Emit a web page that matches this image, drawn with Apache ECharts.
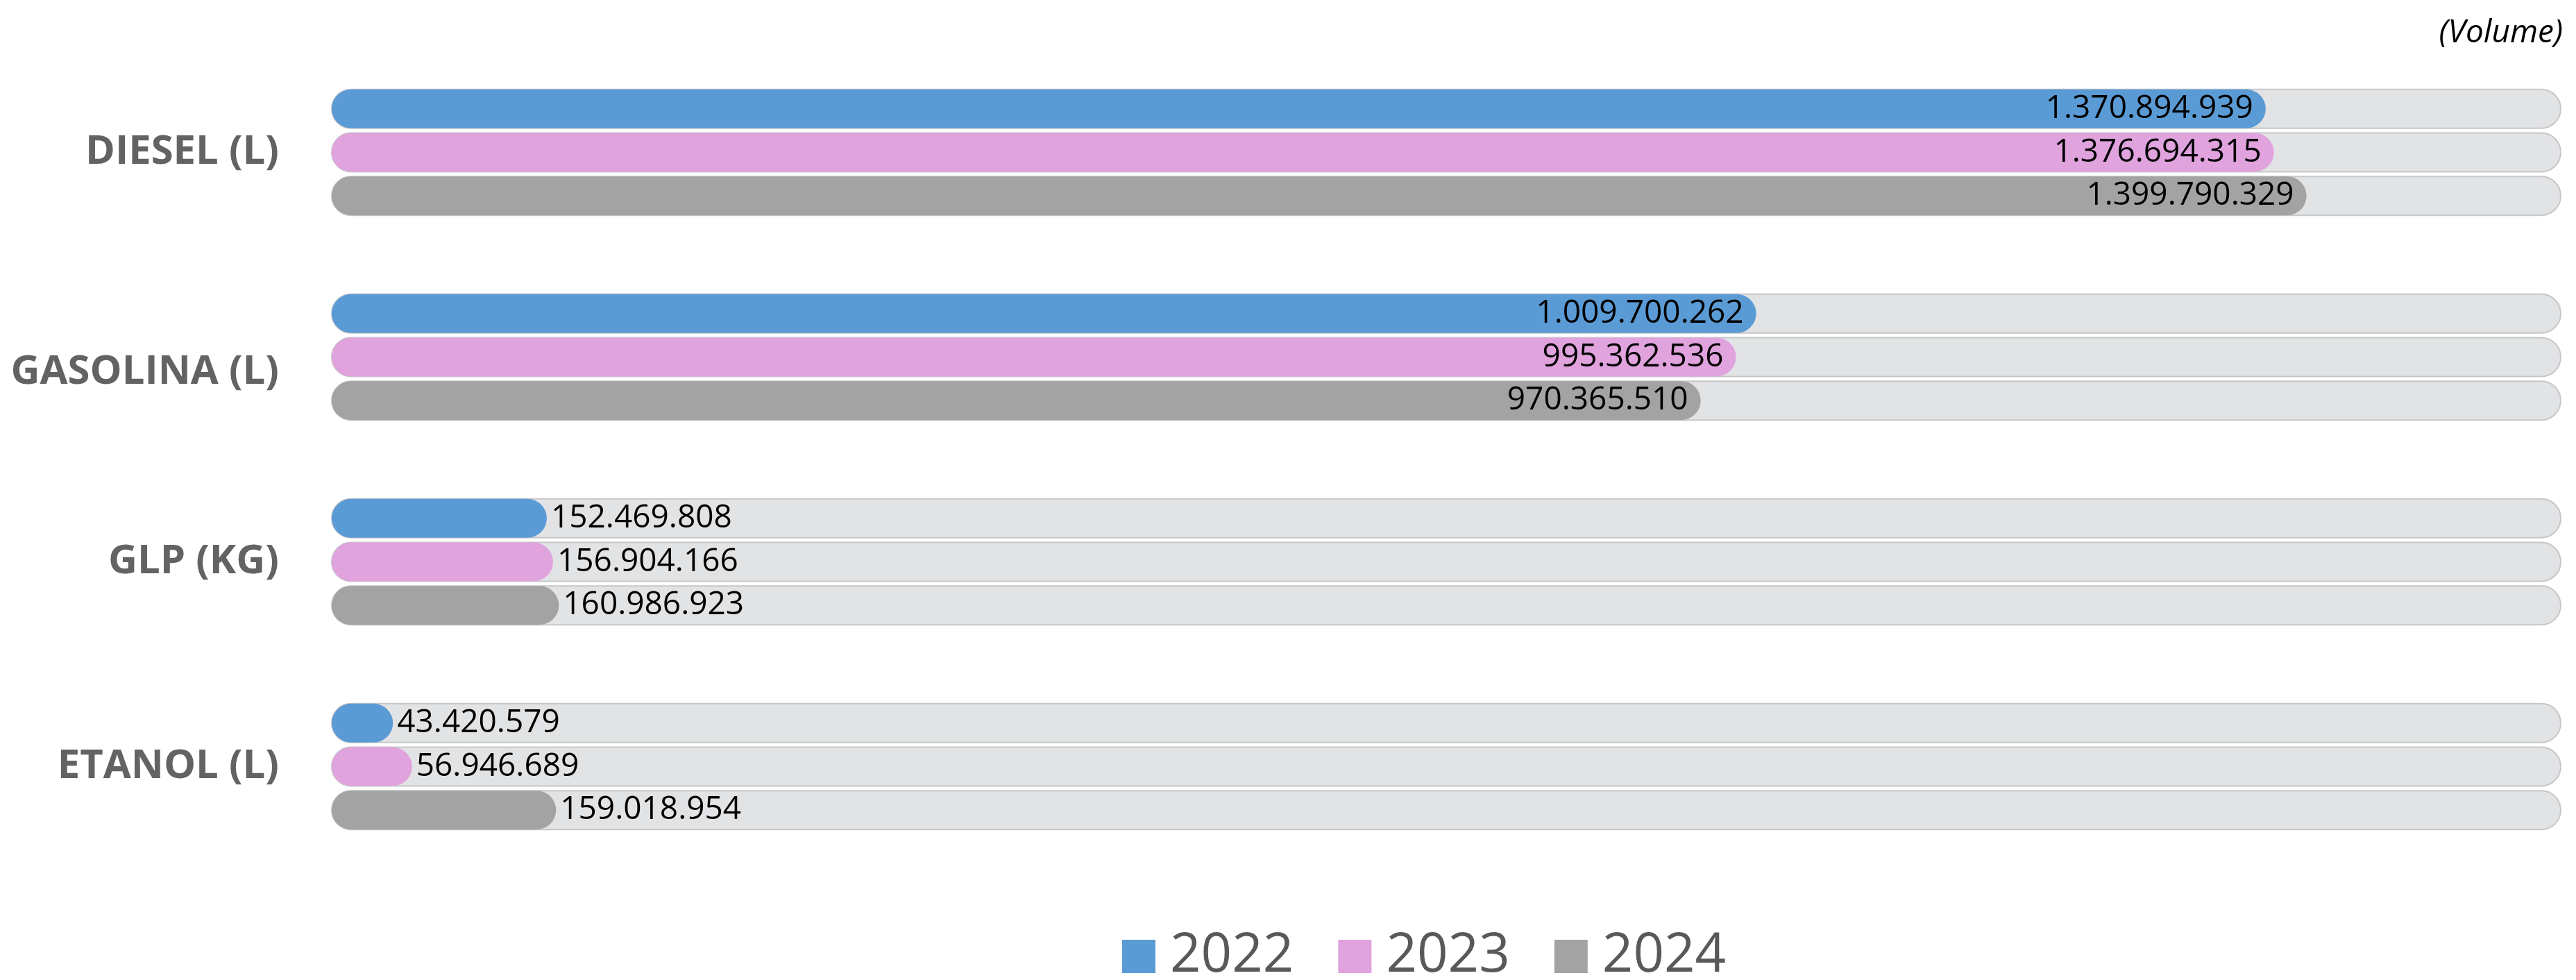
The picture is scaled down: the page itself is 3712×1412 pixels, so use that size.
<!DOCTYPE html>
<html>
<head>
<meta charset="utf-8">
<script src="https://cdn.jsdelivr.net/npm/echarts@6/dist/echarts.min.js"></script>
<style>
  html, body { margin: 0; padding: 0; background: #ffffff; }
  #chart { width: 3712px; height: 1412px; }
</style>
</head>
<body>
<div id="chart"></div>
<script>
// Fuel sales volume by product and year
const categories = ['DIESEL (L)', 'GASOLINA (L)', 'GLP (KG)', 'ETANOL (L)'];
const years = ['2022', '2023', '2024'];
const values2022 = [1370894939, 1009700262, 152469808, 43420579];
const values2023 = [1376694315, 995362536, 156904166, 56946689];
const values2024 = [1399790329, 970365510, 160986923, 159018954];
const unitNote = '(Volume)';

const colors = ['#5b9bd5', '#e0a3de', '#a3a3a3'];
const axisMax = 1580000000;

// Brazilian thousands separator: 1.370.894.939
function fmt(v) {
  return String(v).replace(/\B(?=(\d{3})+(?!\d))/g, '.');
}

function buildSeries(name, values, color) {
  return {
    name: name,
    type: 'bar',
    barWidth: 56,
    barGap: '12%',
    showBackground: true,
    backgroundStyle: {
      color: '#e2e3e5',
      borderColor: '#c6c7c9',
      borderWidth: 2,
      borderRadius: 28
    },
    itemStyle: { color: color, borderRadius: 28 },
    data: values.map(function (v) {
      // long bars carry their value inside, short ones just past the end
      const inside = v > axisMax * 0.3;
      return {
        value: v,
        label: {
          position: inside ? 'insideRight' : 'right',
          distance: inside ? 18 : 6
        }
      };
    }),
    label: {
      show: true,
      color: '#000000',
      fontFamily: 'Open Sans',
      fontSize: 46,
      formatter: function (p) { return fmt(p.value); }
    }
  };
}

const catStyle = {
  fontFamily: 'Open Sans',
  fontWeight: 'bold',
  fontSize: 58,
  color: '#636363'
};

const chart = echarts.init(document.getElementById('chart'), null, { renderer: 'canvas' });
chart.setOption({
  backgroundColor: '#ffffff',
  animation: false,
  title: {
    text: unitNote,
    right: 14,
    top: 20,
    textStyle: {
      fontFamily: 'Open Sans',
      fontStyle: 'italic',
      fontWeight: 'normal',
      fontSize: 46,
      color: '#000000'
    }
  },
  legend: {
    data: years,
    left: 1612,
    top: 1334,
    icon: 'rect',
    itemWidth: 48,
    itemHeight: 48,
    itemGap: 64,
    textStyle: {
      fontFamily: 'Open Sans',
      fontSize: 78,
      color: '#595959',
      padding: [0, 0, 0, 16]
    }
  },
  grid: {
    left: 478,
    right: 22,
    top: 72,
    height: 1180,
    containLabel: false
  },
  xAxis: {
    type: 'value',
    min: 0,
    max: axisMax,
    show: false,
    splitLine: { show: false }
  },
  yAxis: {
    type: 'category',
    inverse: true,
    data: categories,
    axisLine: { show: false },
    axisTick: { show: false },
    axisLabel: Object.assign({
      margin: 76,
      // the GASOLINA caption sits a little below its group's centre
      formatter: function (v, i) {
        return i === 1 ? '{low|' + v + '}' : '{c|' + v + '}';
      },
      rich: {
        c: Object.assign({}, catStyle),
        low: Object.assign({ padding: [44, 0, 0, 0] }, catStyle)
      }
    }, catStyle)
  },
  series: [
    buildSeries(years[0], values2022, colors[0]),
    buildSeries(years[1], values2023, colors[1]),
    buildSeries(years[2], values2024, colors[2])
  ]
});
</script>
</body>
</html>
